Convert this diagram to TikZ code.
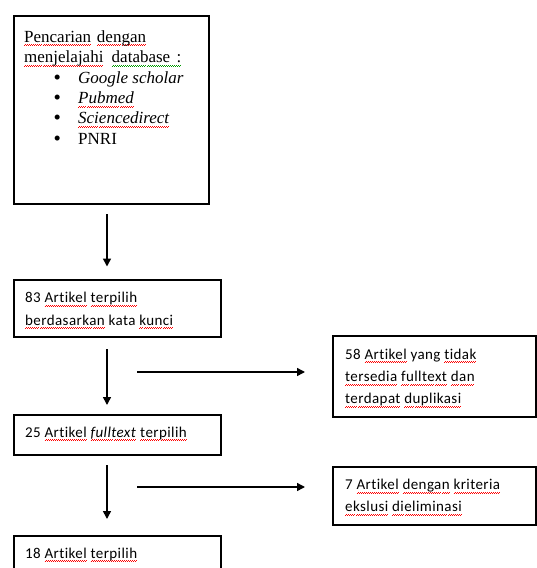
\documentclass[tikz,border=0pt]{standalone}
\usepackage{fontspec}
\setmainfont{Carlito}[LetterSpace=2.8,Ligatures=NoCommon]
\newfontfamily\tnr{Liberation Serif}
\usetikzlibrary{arrows.meta}
\newsavebox\wvbox
\newcommand\wavepat[1]{\xleaders\hbox{\textcolor{#1}{\rule[-3.8pt]{1pt}{0.7pt}\rule[-2.9pt]{1pt}{0.7pt}}}\hfill}
\newcommand\rw[1]{\sbox\wvbox{#1}\rlap{\hbox to\wd\wvbox{\wavepat{red}}}\usebox\wvbox}
\newcommand\gw[1]{\sbox\wvbox{#1}\rlap{\hbox to\wd\wvbox{\wavepat{green!60!black}}}\usebox\wvbox}
\newcommand\firstH[1]{\rule{0pt}{#1}}
\newcommand\bitem{\hspace*{29.5pt}\makebox[24.5pt][l]{\smash{\raisebox{-1pt}{\fontsize{21}{20}\selectfont\textbullet}}}}
\tikzset{
  box/.style={draw=black, line width=1.5pt, fill=none, anchor=north west, inner sep=0pt},
  boxtext/.style={anchor=north west, inner sep=0pt, align=left, font=\fontsize{15}{22.3}\selectfont},
  serif/.style={anchor=north west, inner sep=0pt, align=left, font=\tnr\fontsize{17}{20.4}\selectfont},
  arr/.style={line width=1.5pt, -{Triangle[length=8pt,width=8pt]}}
}
\begin{document}
\begin{tikzpicture}[x=1pt,y=-1pt]
\useasboundingbox (0,0) rectangle (537,568);
% boxes
\node[box, minimum width=195pt, minimum height=188pt] (b1) at (13,15) {};
\node[box, minimum width=207pt, minimum height=57pt] (b2) at (13,279) {};
\node[box, minimum width=203pt, minimum height=81pt] (b3) at (332,335) {};
\node[box, minimum width=207pt, minimum height=40pt] (b4) at (13,414) {};
\node[box, minimum width=203pt, minimum height=58pt] (b5) at (332,466) {};
\node[box, minimum width=207pt, minimum height=45pt] (b6) at (13,535) {};
% texts (first line height fixed at 14pt / 12pt)
\node[serif] (t1) at ([shift={(11,13)}]b1.north west) {%
\firstH{14pt}\rw{Pencarian}\hspace{1.5pt} \rw{dengan}\\
\rw{menjelajahi}\hspace{4pt} \gw{database\hspace{2pt} :}\\
\bitem\textit{Google scholar}\\
\bitem\rw{\textit{Pubmed}}\\
\bitem\rw{\textit{Sciencedirect}}\\
\bitem PNRI};
\node[boxtext] (t2) at ([shift={(12,11.5)}]b2.north west) {\firstH{12pt}83 \rw{Artikel} \rw{terpilih}\\\rw{berdasarkan} kata \rw{kunci}};
\node[boxtext] (t3) at ([shift={(13,12)}]b3.north west) {\firstH{12pt}58 \rw{Artikel} yang \rw{tidak}\\\rw{tersedia} \rw{fulltext} \rw{dan}\\\rw{terdapat} \rw{duplikasi}};
\node[boxtext] (t4) at ([shift={(12,11)}]b4.north west) {\firstH{12pt}25 \rw{Artikel} \rw{\textit{fulltext}} \rw{terpilih}};
\node[boxtext] (t5) at ([shift={(13,11.3)}]b5.north west) {\firstH{12pt}7 \rw{Artikel} \rw{dengan} \rw{kriteria}\\\rw{ekslusi} \rw{dieliminasi}};
\node[boxtext] (t6) at ([shift={(12,11)}]b6.north west) {\firstH{12pt}18 \rw{Artikel} \rw{terpilih}};
% connector coordinates
\coordinate (a1s) at (107,214);
\coordinate (a1e) at (107,266.5);
\coordinate (a2s) at (107,349);
\coordinate (a2e) at (107,405);
\coordinate (a3s) at (107,465);
\coordinate (a3e) at (107,519);
\coordinate (h1s) at (137,372);
\coordinate (h1e) at (305,372);
\coordinate (h2s) at (137,487);
\coordinate (h2e) at (305,487);
\draw[arr] (a1s) -- (a1e);
\draw[arr] (a2s) -- (a2e);
\draw[arr] (a3s) -- (a3e);
\draw[arr] (h1s) -- (h1e);
\draw[arr] (h2s) -- (h2e);
\end{tikzpicture}
\end{document}
